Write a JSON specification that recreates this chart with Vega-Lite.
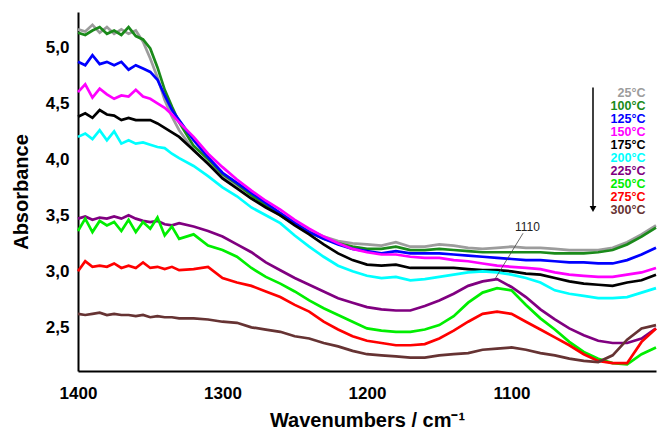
{
"$schema": "https://vega.github.io/schema/vega-lite/v6.json",
"width": 578, "height": 359,
"autosize": {"type": "none"},
"padding": {"left": 78, "top": 12, "right": 2, "bottom": 60},
"background": "white",
"config": {"view": {"stroke": null}, "font": "Liberation Sans", "text": {"font": "Liberation Sans"}, "axis": {"labelFont": "Liberation Sans", "titleFont": "Liberation Sans"}, "legend": {"labelFont": "Liberation Sans"}},
"datasets": {
"spec": [
{"t":"25°C","w":1400,"a":5.16},{"t":"25°C","w":1395,"a":5.14},{"t":"25°C","w":1390,"a":5.20},{"t":"25°C","w":1385,"a":5.13},{"t":"25°C","w":1380,"a":5.18},{"t":"25°C","w":1375,"a":5.12},{"t":"25°C","w":1370,"a":5.16},{"t":"25°C","w":1365,"a":5.12},{"t":"25°C","w":1360,"a":5.15},{"t":"25°C","w":1355,"a":5.05},{"t":"25°C","w":1350,"a":4.90},{"t":"25°C","w":1345,"a":4.73},{"t":"25°C","w":1340,"a":4.53},{"t":"25°C","w":1335,"a":4.38},{"t":"25°C","w":1330,"a":4.26},{"t":"25°C","w":1320,"a":4.08},{"t":"25°C","w":1310,"a":3.96},{"t":"25°C","w":1300,"a":3.85},{"t":"25°C","w":1290,"a":3.77},{"t":"25°C","w":1280,"a":3.68},{"t":"25°C","w":1270,"a":3.60},{"t":"25°C","w":1260,"a":3.52},{"t":"25°C","w":1250,"a":3.44},{"t":"25°C","w":1240,"a":3.37},{"t":"25°C","w":1230,"a":3.31},{"t":"25°C","w":1220,"a":3.27},{"t":"25°C","w":1210,"a":3.25},{"t":"25°C","w":1200,"a":3.24},{"t":"25°C","w":1190,"a":3.23},{"t":"25°C","w":1180,"a":3.26},{"t":"25°C","w":1170,"a":3.22},{"t":"25°C","w":1160,"a":3.22},{"t":"25°C","w":1150,"a":3.24},{"t":"25°C","w":1140,"a":3.23},{"t":"25°C","w":1130,"a":3.21},{"t":"25°C","w":1120,"a":3.20},{"t":"25°C","w":1110,"a":3.21},{"t":"25°C","w":1100,"a":3.22},{"t":"25°C","w":1090,"a":3.21},{"t":"25°C","w":1080,"a":3.21},{"t":"25°C","w":1070,"a":3.20},{"t":"25°C","w":1060,"a":3.19},{"t":"25°C","w":1050,"a":3.19},{"t":"25°C","w":1040,"a":3.19},{"t":"25°C","w":1030,"a":3.21},{"t":"25°C","w":1020,"a":3.26},{"t":"25°C","w":1010,"a":3.33},{"t":"25°C","w":1000,"a":3.41},
{"t":"100°C","w":1400,"a":5.13},{"t":"100°C","w":1395,"a":5.11},{"t":"100°C","w":1390,"a":5.15},{"t":"100°C","w":1385,"a":5.18},{"t":"100°C","w":1380,"a":5.12},{"t":"100°C","w":1375,"a":5.15},{"t":"100°C","w":1370,"a":5.11},{"t":"100°C","w":1365,"a":5.18},{"t":"100°C","w":1360,"a":5.10},{"t":"100°C","w":1355,"a":5.07},{"t":"100°C","w":1350,"a":4.99},{"t":"100°C","w":1345,"a":4.82},{"t":"100°C","w":1340,"a":4.62},{"t":"100°C","w":1335,"a":4.47},{"t":"100°C","w":1330,"a":4.33},{"t":"100°C","w":1320,"a":4.12},{"t":"100°C","w":1310,"a":4.00},{"t":"100°C","w":1300,"a":3.87},{"t":"100°C","w":1290,"a":3.78},{"t":"100°C","w":1280,"a":3.68},{"t":"100°C","w":1270,"a":3.59},{"t":"100°C","w":1260,"a":3.50},{"t":"100°C","w":1250,"a":3.42},{"t":"100°C","w":1240,"a":3.35},{"t":"100°C","w":1230,"a":3.29},{"t":"100°C","w":1220,"a":3.25},{"t":"100°C","w":1210,"a":3.22},{"t":"100°C","w":1200,"a":3.20},{"t":"100°C","w":1190,"a":3.20},{"t":"100°C","w":1180,"a":3.22},{"t":"100°C","w":1170,"a":3.19},{"t":"100°C","w":1160,"a":3.19},{"t":"100°C","w":1150,"a":3.20},{"t":"100°C","w":1140,"a":3.19},{"t":"100°C","w":1130,"a":3.18},{"t":"100°C","w":1120,"a":3.17},{"t":"100°C","w":1110,"a":3.17},{"t":"100°C","w":1100,"a":3.17},{"t":"100°C","w":1090,"a":3.17},{"t":"100°C","w":1080,"a":3.17},{"t":"100°C","w":1070,"a":3.16},{"t":"100°C","w":1060,"a":3.16},{"t":"100°C","w":1050,"a":3.16},{"t":"100°C","w":1040,"a":3.17},{"t":"100°C","w":1030,"a":3.19},{"t":"100°C","w":1020,"a":3.24},{"t":"100°C","w":1010,"a":3.31},{"t":"100°C","w":1000,"a":3.39},
{"t":"125°C","w":1400,"a":4.87},{"t":"125°C","w":1395,"a":4.84},{"t":"125°C","w":1390,"a":4.93},{"t":"125°C","w":1385,"a":4.85},{"t":"125°C","w":1380,"a":4.87},{"t":"125°C","w":1375,"a":4.84},{"t":"125°C","w":1370,"a":4.87},{"t":"125°C","w":1365,"a":4.80},{"t":"125°C","w":1360,"a":4.84},{"t":"125°C","w":1355,"a":4.81},{"t":"125°C","w":1350,"a":4.78},{"t":"125°C","w":1345,"a":4.71},{"t":"125°C","w":1340,"a":4.57},{"t":"125°C","w":1335,"a":4.44},{"t":"125°C","w":1330,"a":4.35},{"t":"125°C","w":1320,"a":4.17},{"t":"125°C","w":1310,"a":4.02},{"t":"125°C","w":1300,"a":3.88},{"t":"125°C","w":1290,"a":3.79},{"t":"125°C","w":1280,"a":3.70},{"t":"125°C","w":1270,"a":3.61},{"t":"125°C","w":1260,"a":3.52},{"t":"125°C","w":1250,"a":3.43},{"t":"125°C","w":1240,"a":3.35},{"t":"125°C","w":1230,"a":3.29},{"t":"125°C","w":1220,"a":3.24},{"t":"125°C","w":1210,"a":3.20},{"t":"125°C","w":1200,"a":3.18},{"t":"125°C","w":1190,"a":3.16},{"t":"125°C","w":1180,"a":3.18},{"t":"125°C","w":1170,"a":3.16},{"t":"125°C","w":1160,"a":3.16},{"t":"125°C","w":1150,"a":3.16},{"t":"125°C","w":1140,"a":3.15},{"t":"125°C","w":1130,"a":3.14},{"t":"125°C","w":1120,"a":3.13},{"t":"125°C","w":1110,"a":3.12},{"t":"125°C","w":1100,"a":3.11},{"t":"125°C","w":1090,"a":3.10},{"t":"125°C","w":1080,"a":3.10},{"t":"125°C","w":1070,"a":3.09},{"t":"125°C","w":1060,"a":3.08},{"t":"125°C","w":1050,"a":3.08},{"t":"125°C","w":1040,"a":3.07},{"t":"125°C","w":1030,"a":3.07},{"t":"125°C","w":1020,"a":3.10},{"t":"125°C","w":1010,"a":3.15},{"t":"125°C","w":1000,"a":3.21},
{"t":"150°C","w":1400,"a":4.60},{"t":"150°C","w":1395,"a":4.67},{"t":"150°C","w":1390,"a":4.55},{"t":"150°C","w":1385,"a":4.63},{"t":"150°C","w":1380,"a":4.58},{"t":"150°C","w":1375,"a":4.54},{"t":"150°C","w":1370,"a":4.57},{"t":"150°C","w":1365,"a":4.56},{"t":"150°C","w":1360,"a":4.62},{"t":"150°C","w":1355,"a":4.56},{"t":"150°C","w":1350,"a":4.54},{"t":"150°C","w":1345,"a":4.50},{"t":"150°C","w":1340,"a":4.46},{"t":"150°C","w":1335,"a":4.40},{"t":"150°C","w":1330,"a":4.33},{"t":"150°C","w":1320,"a":4.20},{"t":"150°C","w":1310,"a":4.05},{"t":"150°C","w":1300,"a":3.93},{"t":"150°C","w":1290,"a":3.82},{"t":"150°C","w":1280,"a":3.72},{"t":"150°C","w":1270,"a":3.63},{"t":"150°C","w":1260,"a":3.55},{"t":"150°C","w":1250,"a":3.46},{"t":"150°C","w":1240,"a":3.38},{"t":"150°C","w":1230,"a":3.31},{"t":"150°C","w":1220,"a":3.25},{"t":"150°C","w":1210,"a":3.20},{"t":"150°C","w":1200,"a":3.17},{"t":"150°C","w":1190,"a":3.15},{"t":"150°C","w":1180,"a":3.15},{"t":"150°C","w":1170,"a":3.13},{"t":"150°C","w":1160,"a":3.12},{"t":"150°C","w":1150,"a":3.12},{"t":"150°C","w":1140,"a":3.10},{"t":"150°C","w":1130,"a":3.09},{"t":"150°C","w":1120,"a":3.07},{"t":"150°C","w":1110,"a":3.05},{"t":"150°C","w":1100,"a":3.04},{"t":"150°C","w":1090,"a":3.03},{"t":"150°C","w":1080,"a":3.02},{"t":"150°C","w":1070,"a":2.99},{"t":"150°C","w":1060,"a":2.97},{"t":"150°C","w":1050,"a":2.96},{"t":"150°C","w":1040,"a":2.95},{"t":"150°C","w":1030,"a":2.95},{"t":"150°C","w":1020,"a":2.97},{"t":"150°C","w":1010,"a":2.99},{"t":"150°C","w":1000,"a":3.03},
{"t":"175°C","w":1400,"a":4.38},{"t":"175°C","w":1395,"a":4.41},{"t":"175°C","w":1390,"a":4.37},{"t":"175°C","w":1385,"a":4.44},{"t":"175°C","w":1380,"a":4.40},{"t":"175°C","w":1375,"a":4.39},{"t":"175°C","w":1370,"a":4.35},{"t":"175°C","w":1365,"a":4.37},{"t":"175°C","w":1360,"a":4.35},{"t":"175°C","w":1355,"a":4.35},{"t":"175°C","w":1350,"a":4.35},{"t":"175°C","w":1345,"a":4.32},{"t":"175°C","w":1340,"a":4.28},{"t":"175°C","w":1335,"a":4.24},{"t":"175°C","w":1330,"a":4.20},{"t":"175°C","w":1320,"a":4.08},{"t":"175°C","w":1310,"a":3.96},{"t":"175°C","w":1300,"a":3.83},{"t":"175°C","w":1290,"a":3.74},{"t":"175°C","w":1280,"a":3.65},{"t":"175°C","w":1270,"a":3.57},{"t":"175°C","w":1260,"a":3.50},{"t":"175°C","w":1250,"a":3.41},{"t":"175°C","w":1240,"a":3.33},{"t":"175°C","w":1230,"a":3.24},{"t":"175°C","w":1220,"a":3.16},{"t":"175°C","w":1210,"a":3.10},{"t":"175°C","w":1200,"a":3.06},{"t":"175°C","w":1190,"a":3.05},{"t":"175°C","w":1180,"a":3.06},{"t":"175°C","w":1170,"a":3.03},{"t":"175°C","w":1160,"a":3.03},{"t":"175°C","w":1150,"a":3.03},{"t":"175°C","w":1140,"a":3.03},{"t":"175°C","w":1130,"a":3.02},{"t":"175°C","w":1120,"a":3.01},{"t":"175°C","w":1110,"a":3.01},{"t":"175°C","w":1100,"a":3.00},{"t":"175°C","w":1090,"a":2.98},{"t":"175°C","w":1080,"a":2.97},{"t":"175°C","w":1070,"a":2.94},{"t":"175°C","w":1060,"a":2.91},{"t":"175°C","w":1050,"a":2.89},{"t":"175°C","w":1040,"a":2.88},{"t":"175°C","w":1030,"a":2.87},{"t":"175°C","w":1020,"a":2.90},{"t":"175°C","w":1010,"a":2.92},{"t":"175°C","w":1000,"a":2.97},
{"t":"200°C","w":1400,"a":4.20},{"t":"200°C","w":1395,"a":4.23},{"t":"200°C","w":1390,"a":4.18},{"t":"200°C","w":1385,"a":4.26},{"t":"200°C","w":1380,"a":4.17},{"t":"200°C","w":1375,"a":4.25},{"t":"200°C","w":1370,"a":4.14},{"t":"200°C","w":1365,"a":4.17},{"t":"200°C","w":1360,"a":4.14},{"t":"200°C","w":1355,"a":4.15},{"t":"200°C","w":1350,"a":4.13},{"t":"200°C","w":1345,"a":4.11},{"t":"200°C","w":1340,"a":4.10},{"t":"200°C","w":1335,"a":4.05},{"t":"200°C","w":1330,"a":4.01},{"t":"200°C","w":1320,"a":3.94},{"t":"200°C","w":1310,"a":3.85},{"t":"200°C","w":1300,"a":3.75},{"t":"200°C","w":1290,"a":3.67},{"t":"200°C","w":1280,"a":3.57},{"t":"200°C","w":1270,"a":3.50},{"t":"200°C","w":1260,"a":3.43},{"t":"200°C","w":1250,"a":3.32},{"t":"200°C","w":1240,"a":3.22},{"t":"200°C","w":1230,"a":3.13},{"t":"200°C","w":1220,"a":3.05},{"t":"200°C","w":1210,"a":3.00},{"t":"200°C","w":1200,"a":2.96},{"t":"200°C","w":1190,"a":2.94},{"t":"200°C","w":1180,"a":2.95},{"t":"200°C","w":1170,"a":2.92},{"t":"200°C","w":1160,"a":2.93},{"t":"200°C","w":1150,"a":2.95},{"t":"200°C","w":1140,"a":2.97},{"t":"200°C","w":1130,"a":2.99},{"t":"200°C","w":1120,"a":3.00},{"t":"200°C","w":1110,"a":2.99},{"t":"200°C","w":1100,"a":2.97},{"t":"200°C","w":1090,"a":2.94},{"t":"200°C","w":1080,"a":2.90},{"t":"200°C","w":1070,"a":2.83},{"t":"200°C","w":1060,"a":2.80},{"t":"200°C","w":1050,"a":2.78},{"t":"200°C","w":1040,"a":2.76},{"t":"200°C","w":1030,"a":2.76},{"t":"200°C","w":1020,"a":2.77},{"t":"200°C","w":1010,"a":2.81},{"t":"200°C","w":1000,"a":2.85},
{"t":"225°C","w":1400,"a":3.47},{"t":"225°C","w":1395,"a":3.49},{"t":"225°C","w":1390,"a":3.46},{"t":"225°C","w":1385,"a":3.48},{"t":"225°C","w":1380,"a":3.47},{"t":"225°C","w":1375,"a":3.49},{"t":"225°C","w":1370,"a":3.47},{"t":"225°C","w":1365,"a":3.50},{"t":"225°C","w":1360,"a":3.47},{"t":"225°C","w":1355,"a":3.45},{"t":"225°C","w":1350,"a":3.44},{"t":"225°C","w":1345,"a":3.45},{"t":"225°C","w":1340,"a":3.42},{"t":"225°C","w":1335,"a":3.41},{"t":"225°C","w":1330,"a":3.43},{"t":"225°C","w":1320,"a":3.40},{"t":"225°C","w":1310,"a":3.36},{"t":"225°C","w":1300,"a":3.31},{"t":"225°C","w":1290,"a":3.24},{"t":"225°C","w":1280,"a":3.17},{"t":"225°C","w":1270,"a":3.08},{"t":"225°C","w":1260,"a":3.01},{"t":"225°C","w":1250,"a":2.94},{"t":"225°C","w":1240,"a":2.88},{"t":"225°C","w":1230,"a":2.82},{"t":"225°C","w":1220,"a":2.76},{"t":"225°C","w":1210,"a":2.72},{"t":"225°C","w":1200,"a":2.68},{"t":"225°C","w":1190,"a":2.66},{"t":"225°C","w":1180,"a":2.65},{"t":"225°C","w":1170,"a":2.65},{"t":"225°C","w":1160,"a":2.69},{"t":"225°C","w":1150,"a":2.74},{"t":"225°C","w":1140,"a":2.80},{"t":"225°C","w":1130,"a":2.87},{"t":"225°C","w":1120,"a":2.91},{"t":"225°C","w":1110,"a":2.93},{"t":"225°C","w":1100,"a":2.86},{"t":"225°C","w":1090,"a":2.77},{"t":"225°C","w":1080,"a":2.66},{"t":"225°C","w":1070,"a":2.57},{"t":"225°C","w":1060,"a":2.49},{"t":"225°C","w":1050,"a":2.43},{"t":"225°C","w":1040,"a":2.38},{"t":"225°C","w":1030,"a":2.36},{"t":"225°C","w":1020,"a":2.36},{"t":"225°C","w":1010,"a":2.40},{"t":"225°C","w":1000,"a":2.49},
{"t":"250°C","w":1400,"a":3.36},{"t":"250°C","w":1395,"a":3.47},{"t":"250°C","w":1390,"a":3.35},{"t":"250°C","w":1385,"a":3.45},{"t":"250°C","w":1380,"a":3.41},{"t":"250°C","w":1375,"a":3.44},{"t":"250°C","w":1370,"a":3.36},{"t":"250°C","w":1365,"a":3.46},{"t":"250°C","w":1360,"a":3.35},{"t":"250°C","w":1355,"a":3.44},{"t":"250°C","w":1350,"a":3.38},{"t":"250°C","w":1345,"a":3.48},{"t":"250°C","w":1340,"a":3.32},{"t":"250°C","w":1335,"a":3.40},{"t":"250°C","w":1330,"a":3.29},{"t":"250°C","w":1320,"a":3.33},{"t":"250°C","w":1310,"a":3.23},{"t":"250°C","w":1300,"a":3.19},{"t":"250°C","w":1290,"a":3.13},{"t":"250°C","w":1280,"a":3.03},{"t":"250°C","w":1270,"a":2.95},{"t":"250°C","w":1260,"a":2.89},{"t":"250°C","w":1250,"a":2.82},{"t":"250°C","w":1240,"a":2.74},{"t":"250°C","w":1230,"a":2.67},{"t":"250°C","w":1220,"a":2.61},{"t":"250°C","w":1210,"a":2.55},{"t":"250°C","w":1200,"a":2.49},{"t":"250°C","w":1190,"a":2.47},{"t":"250°C","w":1180,"a":2.46},{"t":"250°C","w":1170,"a":2.46},{"t":"250°C","w":1160,"a":2.48},{"t":"250°C","w":1150,"a":2.52},{"t":"250°C","w":1140,"a":2.60},{"t":"250°C","w":1130,"a":2.72},{"t":"250°C","w":1120,"a":2.81},{"t":"250°C","w":1110,"a":2.85},{"t":"250°C","w":1100,"a":2.83},{"t":"250°C","w":1090,"a":2.70},{"t":"250°C","w":1080,"a":2.58},{"t":"250°C","w":1070,"a":2.48},{"t":"250°C","w":1060,"a":2.37},{"t":"250°C","w":1050,"a":2.28},{"t":"250°C","w":1040,"a":2.22},{"t":"250°C","w":1030,"a":2.18},{"t":"250°C","w":1020,"a":2.17},{"t":"250°C","w":1010,"a":2.26},{"t":"250°C","w":1000,"a":2.32},
{"t":"275°C","w":1400,"a":3.00},{"t":"275°C","w":1395,"a":3.09},{"t":"275°C","w":1390,"a":3.04},{"t":"275°C","w":1385,"a":3.05},{"t":"275°C","w":1380,"a":3.04},{"t":"275°C","w":1375,"a":3.07},{"t":"275°C","w":1370,"a":3.03},{"t":"275°C","w":1365,"a":3.05},{"t":"275°C","w":1360,"a":3.03},{"t":"275°C","w":1355,"a":3.08},{"t":"275°C","w":1350,"a":3.03},{"t":"275°C","w":1345,"a":3.04},{"t":"275°C","w":1340,"a":3.02},{"t":"275°C","w":1335,"a":3.04},{"t":"275°C","w":1330,"a":3.01},{"t":"275°C","w":1320,"a":3.02},{"t":"275°C","w":1310,"a":3.04},{"t":"275°C","w":1300,"a":2.94},{"t":"275°C","w":1290,"a":2.90},{"t":"275°C","w":1280,"a":2.87},{"t":"275°C","w":1270,"a":2.82},{"t":"275°C","w":1260,"a":2.77},{"t":"275°C","w":1250,"a":2.70},{"t":"275°C","w":1240,"a":2.64},{"t":"275°C","w":1230,"a":2.55},{"t":"275°C","w":1220,"a":2.48},{"t":"275°C","w":1210,"a":2.42},{"t":"275°C","w":1200,"a":2.38},{"t":"275°C","w":1190,"a":2.36},{"t":"275°C","w":1180,"a":2.34},{"t":"275°C","w":1170,"a":2.34},{"t":"275°C","w":1160,"a":2.35},{"t":"275°C","w":1150,"a":2.40},{"t":"275°C","w":1140,"a":2.47},{"t":"275°C","w":1130,"a":2.55},{"t":"275°C","w":1120,"a":2.62},{"t":"275°C","w":1110,"a":2.64},{"t":"275°C","w":1100,"a":2.62},{"t":"275°C","w":1090,"a":2.55},{"t":"275°C","w":1080,"a":2.48},{"t":"275°C","w":1070,"a":2.41},{"t":"275°C","w":1060,"a":2.34},{"t":"275°C","w":1050,"a":2.26},{"t":"275°C","w":1040,"a":2.20},{"t":"275°C","w":1030,"a":2.18},{"t":"275°C","w":1020,"a":2.18},{"t":"275°C","w":1010,"a":2.37},{"t":"275°C","w":1000,"a":2.49},
{"t":"300°C","w":1400,"a":2.62},{"t":"300°C","w":1395,"a":2.61},{"t":"300°C","w":1390,"a":2.62},{"t":"300°C","w":1385,"a":2.63},{"t":"300°C","w":1380,"a":2.61},{"t":"300°C","w":1375,"a":2.62},{"t":"300°C","w":1370,"a":2.61},{"t":"300°C","w":1365,"a":2.61},{"t":"300°C","w":1360,"a":2.60},{"t":"300°C","w":1355,"a":2.61},{"t":"300°C","w":1350,"a":2.59},{"t":"300°C","w":1345,"a":2.60},{"t":"300°C","w":1340,"a":2.59},{"t":"300°C","w":1335,"a":2.59},{"t":"300°C","w":1330,"a":2.58},{"t":"300°C","w":1320,"a":2.58},{"t":"300°C","w":1310,"a":2.57},{"t":"300°C","w":1300,"a":2.55},{"t":"300°C","w":1290,"a":2.54},{"t":"300°C","w":1280,"a":2.50},{"t":"300°C","w":1270,"a":2.48},{"t":"300°C","w":1260,"a":2.46},{"t":"300°C","w":1250,"a":2.42},{"t":"300°C","w":1240,"a":2.40},{"t":"300°C","w":1230,"a":2.36},{"t":"300°C","w":1220,"a":2.33},{"t":"300°C","w":1210,"a":2.29},{"t":"300°C","w":1200,"a":2.26},{"t":"300°C","w":1190,"a":2.25},{"t":"300°C","w":1180,"a":2.24},{"t":"300°C","w":1170,"a":2.23},{"t":"300°C","w":1160,"a":2.23},{"t":"300°C","w":1150,"a":2.25},{"t":"300°C","w":1140,"a":2.26},{"t":"300°C","w":1130,"a":2.27},{"t":"300°C","w":1120,"a":2.30},{"t":"300°C","w":1110,"a":2.31},{"t":"300°C","w":1100,"a":2.32},{"t":"300°C","w":1090,"a":2.30},{"t":"300°C","w":1080,"a":2.27},{"t":"300°C","w":1070,"a":2.25},{"t":"300°C","w":1060,"a":2.22},{"t":"300°C","w":1050,"a":2.20},{"t":"300°C","w":1040,"a":2.19},{"t":"300°C","w":1030,"a":2.25},{"t":"300°C","w":1020,"a":2.39},{"t":"300°C","w":1010,"a":2.49},{"t":"300°C","w":1000,"a":2.52}
],
"note": [{"label": "1110", "w": 1089, "a": 3.40, "w1": 1092, "a1": 3.34, "w2": 1111.5, "a2": 2.93}],
"arrow": [{"w": 1043.6, "a1": 4.64, "a2": 3.58, "ah": 3.556}]
},
"layer": [
{
"data": {"name": "spec"},
"mark": {"type": "line", "strokeWidth": 2.7},
"encoding": {
"x": {"field": "w", "type": "quantitative", "title": "Wavenumbers / cm⁻¹",
"scale": {"domain": [1400, 1000], "nice": false, "zero": false},
"axis": {"values": [1400, 1300, 1200, 1100], "format": "d", "labelFlush": false, "labelOverlap": false, "ticks": false, "grid": false,
"labelFontSize": 17, "labelFontWeight": "bold", "labelColor": "black", "labelPadding": 14,
"titleFontSize": 20, "titleFontWeight": "bold", "titleColor": "black", "titlePadding": 9,
"domainColor": "black", "domainWidth": 2}},
"y": {"field": "a", "type": "quantitative", "title": "Absorbance",
"scale": {"domain": [2.11, 5.315], "nice": false, "zero": false},
"axis": {"values": [2.5, 3, 3.5, 4, 4.5, 5], "labelExpr": "replace(format(datum.value, '.1f'), '.', ',')", "ticks": false, "grid": false,
"labelFontSize": 17, "labelFontWeight": "bold", "labelColor": "black", "labelPadding": 9,
"titleFontSize": 20, "titleFontWeight": "bold", "titleColor": "black", "titlePadding": 14,
"domainColor": "black", "domainWidth": 2}},
"color": {"field": "t", "type": "nominal",
"scale": {"domain": ["25°C", "100°C", "125°C", "150°C", "175°C", "200°C", "225°C", "250°C", "275°C", "300°C"],
"range": ["#9c9c9c", "#1a8a1a", "#0000ff", "#ff00ff", "#000000", "#00ffff", "#800080", "#00ee00", "#ff0000", "#663333"]},
"legend": {"orient": "none", "legendX": 555, "legendY": 74.5, "title": null, "symbolSize": 0, "symbolStrokeWidth": 0, "symbolOpacity": 0,
"labelFontSize": 12.5, "labelFontWeight": "bold", "labelFont": "Liberation Sans", "labelAlign": "right", "labelBaseline": "middle", "labelOffset": 0, "rowPadding": 0, "padding": 0,
"encode": {"labels": {"update": {"fill": {"scale": "color", "field": "value"}}}}}}
}
},
{
"data": {"name": "note"},
"mark": {"type": "rule", "color": "#444444", "strokeWidth": 0.8},
"encoding": {"x": {"field": "w1", "type": "quantitative", "title": "Wavenumbers / cm⁻¹"}, "y": {"field": "a1", "type": "quantitative", "title": "Absorbance"}, "x2": {"field": "w2"}, "y2": {"field": "a2"}}
},
{
"data": {"name": "note"},
"mark": {"type": "text", "fontSize": 12, "font": "Arial", "color": "#222222"},
"encoding": {"x": {"field": "w", "type": "quantitative", "title": "Wavenumbers / cm⁻¹"}, "y": {"field": "a", "type": "quantitative", "title": "Absorbance"}, "text": {"field": "label"}}
},
{
"data": {"name": "arrow"},
"mark": {"type": "rule", "color": "black", "strokeWidth": 1.5},
"encoding": {"x": {"field": "w", "type": "quantitative", "title": "Wavenumbers / cm⁻¹"}, "y": {"field": "a1", "type": "quantitative", "title": "Absorbance"}, "y2": {"field": "a2"}}
},
{
"data": {"name": "arrow"},
"mark": {"type": "point", "shape": "triangle-down", "filled": true, "color": "black", "size": 45, "opacity": 1},
"encoding": {"x": {"field": "w", "type": "quantitative", "title": "Wavenumbers / cm⁻¹"}, "y": {"field": "ah", "type": "quantitative", "title": "Absorbance"}}
}
]
}
